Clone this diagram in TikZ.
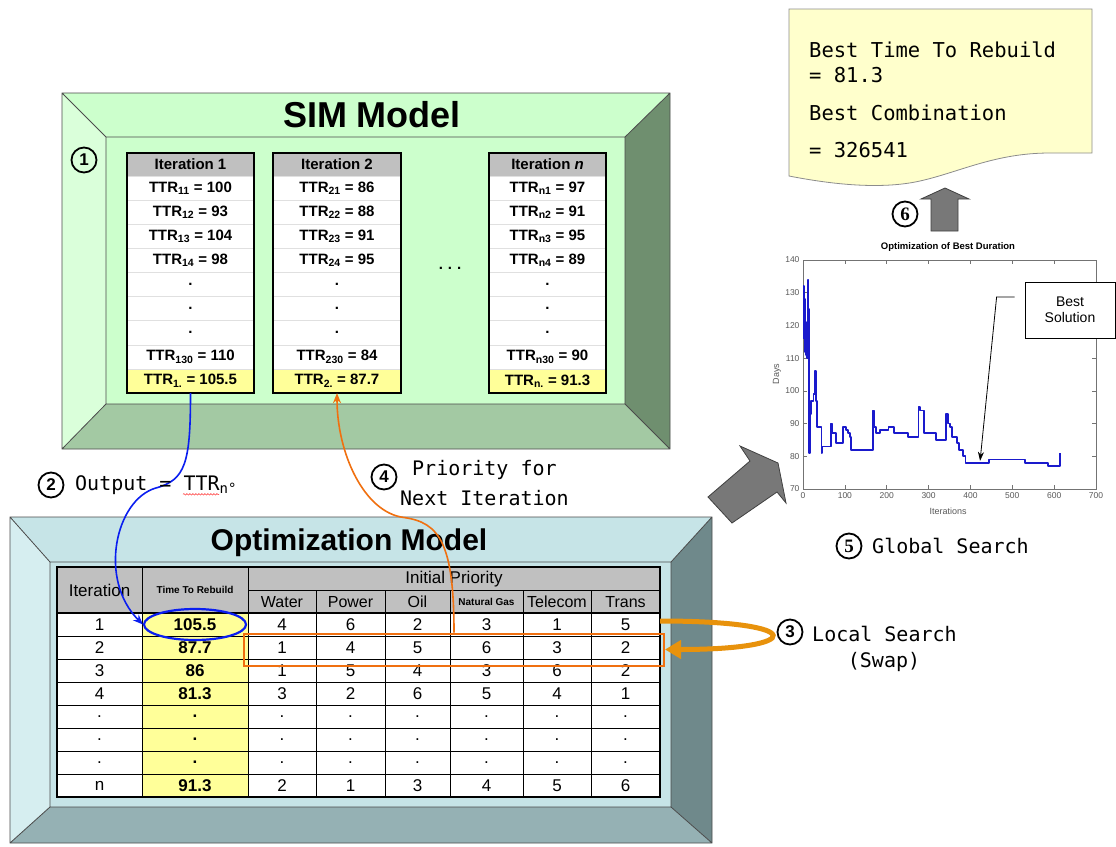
\documentclass[tikz,border=0pt]{standalone}
\usepackage{fontspec}
\setmainfont{Liberation Sans}
\newfontfamily\labelmono{DejaVu Sans Mono}
\newfontfamily\numserif{Liberation Serif}
\usetikzlibrary{arrows.meta, positioning, shapes.geometric, calc, decorations.pathmorphing}
\definecolor{simlight}{HTML}{CCFFCC}
\definecolor{simleft}{HTML}{DAFFDA}
\definecolor{simright}{HTML}{6F8F6F}
\definecolor{simbottom}{HTML}{A3C9A3}
\definecolor{optlight}{HTML}{C6E4E7}
\definecolor{optleft}{HTML}{D6EEF0}
\definecolor{optright}{HTML}{6F898B}
\definecolor{optbottom}{HTML}{95B1B4}
\definecolor{hdrgrey}{HTML}{C0C0C0}
\definecolor{cellyellow}{HTML}{FFFF99}
\definecolor{noteyellow}{HTML}{FFFFCC}
\definecolor{linkblue}{HTML}{0A1EF0}
\definecolor{linkorange}{HTML}{F07010}
\definecolor{swaporange}{HTML}{E8920C}
\definecolor{blockgrey}{HTML}{787878}
\definecolor{plotblue}{HTML}{1A1ACC}

\begin{document}
\begin{tikzpicture}[
  x=1pt, y=-1pt,
  frameedge/.style={draw=black!70, line width=0.8pt},
  simhead/.style={fill=hdrgrey, minimum height=23pt, font=\bfseries\fontsize{15}{15}\selectfont},
  simcell/.style={draw=black!12, fill=white, minimum height=24.1pt, font=\bfseries\fontsize{15}{15}\selectfont},
  opthead/.style={font=\fontsize{16}{16}\selectfont},
  optcell/.style={font=\fontsize{17}{17}\selectfont},
  circnum/.style={circle, draw, line width=1.8pt, minimum size=25pt, inner sep=0pt, font=\bfseries\fontsize{17}{17}\selectfont},
  steplabel/.style={font=\labelmono\fontsize{20}{24}\selectfont, inner sep=0pt, anchor=west},
  notetext/.style={font=\labelmono\fontsize{20.5}{20.5}\selectfont, inner sep=0pt, anchor=west},
  ticklabel/.style={font=\fontsize{8.5}{8.5}\selectfont, text=black!65},
]
\useasboundingbox (0,0) rectangle (1116,846);
\fill[white] (0,0) rectangle (1116,846);

% SIM model frame
\fill[simlight] (62,93) -- (670,93) -- (625,137) -- (106,137) -- cycle;
\fill[simleft] (62,93) -- (106,137) -- (106,404) -- (62,449) -- cycle;
\fill[simright] (670,93) -- (625,137) -- (625,404) -- (670,449) -- cycle;
\fill[simbottom] (62,449) -- (106,404) -- (625,404) -- (670,449) -- cycle;
\fill[simlight] (106,137) rectangle (625,404);
\draw[frameedge] (62,93) rectangle (670,449) (106,137) rectangle (625,404)
  (62,93) -- (106,137) (670,93) -- (625,137) (62,449) -- (106,404) (670,449) -- (625,404);
\node[font=\bfseries\fontsize{36}{36}\selectfont] (simtitle) at (372,115) {SIM Model};
\node[circnum] (n1) at (84,160) {1};

% iteration columns
\node[simhead, minimum width=127pt] (c1h) at (190.5,164.5) {Iteration 1};
\foreach \txt [count=\i] in {TTR\textsubscript{11} = 100, TTR\textsubscript{12} = 93, TTR\textsubscript{13} = 104, TTR\textsubscript{14} = 98, ., ., ., TTR\textsubscript{130} = 110}
  \node[simcell, minimum width=127pt] (c1r\i) at (190.5,{176+24.1*(\i-0.5)}) {\txt};
\node[simcell, fill=cellyellow, minimum width=127pt] (c1y) at (190.5,380.85) {TTR\textsubscript{1.} = 105.5};
\draw[line width=2.2pt] (c1h.north west) rectangle (c1y.south east);

\node[simhead, minimum width=128pt] (c2h) at (337,164.5) {Iteration 2};
\foreach \txt [count=\i] in {TTR\textsubscript{21} = 86, TTR\textsubscript{22} = 88, TTR\textsubscript{23} = 91, TTR\textsubscript{24} = 95, ., ., ., TTR\textsubscript{230} = 84}
  \node[simcell, minimum width=128pt] (c2r\i) at (337,{176+24.1*(\i-0.5)}) {\txt};
\node[simcell, fill=cellyellow, minimum width=128pt] (c2y) at (337,380.85) {TTR\textsubscript{2.} = 87.7};
\draw[line width=2.2pt] (c2h.north west) rectangle (c2y.south east);

\node[font=\bfseries\fontsize{15}{15}\selectfont] (cdots) at (450,268) {.\,\,.\,\,.};

\node[simhead, minimum width=117pt] (cnh) at (547.5,164.5) {Iteration \textit{n}};
\foreach \txt [count=\i] in {TTR\textsubscript{n1} = 97, TTR\textsubscript{n2} = 91, TTR\textsubscript{n3} = 95, TTR\textsubscript{n4} = 89, ., ., ., TTR\textsubscript{n30} = 90}
  \node[simcell, minimum width=117pt] (cnr\i) at (547.5,{176+24.1*(\i-0.5)}) {\txt};
\node[simcell, fill=cellyellow, minimum width=117pt] (cny) at (547.5,380.85) {TTR\textsubscript{n.} = 91.3};
\draw[line width=2.2pt] (cnh.north west) rectangle (cny.south east);

% optimization model frame
\fill[optlight] (10,517) -- (712,517) -- (671,562) -- (50,562) -- cycle;
\fill[optleft] (10,517) -- (50,562) -- (50,807) -- (10,843) -- cycle;
\fill[optright] (712,517) -- (671,562) -- (671,807) -- (712,843) -- cycle;
\fill[optbottom] (10,843) -- (50,807) -- (671,807) -- (712,843) -- cycle;
\fill[optlight] (50,562) rectangle (671,807);
\draw[frameedge] (10,517) rectangle (712,843) (50,562) rectangle (671,807)
  (10,517) -- (50,562) (712,517) -- (671,562) (10,843) -- (50,807) (712,843) -- (671,807);
\node[font=\bfseries\fontsize{30}{30}\selectfont] (opttitle) at (349,543) {Optimization Model};

% table
\fill[hdrgrey] (57,567) rectangle (660,613);
\fill[white] (57,613) rectangle (660,797);
\fill[cellyellow] (142,613) rectangle (248,797);
\foreach \yy in {636,659,...,774} \draw[line width=0.8pt] (57,\yy) -- (660,\yy);
\draw[line width=0.8pt] (248,590) -- (660,590);
\foreach \xx in {142,248} \draw[line width=0.8pt] (\xx,567) -- (\xx,797);
\foreach \xx in {316,385,450,523,591} \draw[line width=0.8pt] (\xx,590) -- (\xx,797);
\draw[line width=1.6pt] (57,613) -- (660,613);
\draw[line width=2.2pt] (57,567) rectangle (660,797);

\node[font=\fontsize{17}{17}\selectfont] (hiter) at (99.5,590) {Iteration};
\node[font=\bfseries\fontsize{10}{10}\selectfont] (httr) at (195,590) {Time To Rebuild};
\node[font=\fontsize{17}{17}\selectfont] (hprio) at (454,579) {Initial Priority};
\foreach \h/\xx in {Water/282, Power/350.5, Oil/417.5, Telecom/557, Trans/625.5}
  \node[opthead] (h\h) at (\xx,602) {\h};
\node[font=\bfseries\fontsize{10}{10}\selectfont] (hgas) at (486.5,602) {Natural Gas};

\foreach \row [count=\rw] in {{1,105.5,4,6,2,3,1,5},{2,87.7,1,4,5,6,3,2},{3,86,1,5,4,3,6,2},{4,81.3,3,2,6,5,4,1},{.,.,.,.,.,.,.,.},{.,.,.,.,.,.,.,.},{.,.,.,.,.,.,.,.},{n,91.3,2,1,3,4,5,6}}
  \foreach \v [count=\cl] in \row {
    \pgfmathsetmacro\xx{{99.5,195,282,350.5,417.5,486.5,557,625.5}[\cl-1]}
    \pgfmathsetmacro\yy{613+23*(\rw-0.5)}
    \node[optcell] (t\rw-\cl) at (\xx,\yy) {\ifnum\cl=2 \bfseries\fi\v};
  }

\node[draw=linkblue, ellipse, line width=2.2pt, minimum width=102pt, minimum height=31pt] (best) at (t1-2) {};
\node[draw=linkorange, line width=2pt, minimum width=420pt, minimum height=32pt] (swap) at (454,649.5) {};
\coordinate (looptop) at (660,621);

% connectors
\draw[-{Stealth[length=10pt,width=8pt]}, linkblue, line width=1.6pt]
  (c1y.south) .. controls +(0,70) and +(30,-8) .. ++(-35,95)
  .. controls +(-40,12) and +(-45,-45) .. (best.west);
\draw[-{Stealth[length=10pt,width=8pt]}, linkorange, line width=1.6pt]
  (swap.north) .. controls +(0,-90) and +(35,5) .. ++(-50,-115)
  .. controls +(-40,-5) and +(0,60) .. (c2y.south);
\draw[-{Triangle[length=16pt,width=18pt]}, swaporange, line width=5pt]
  (looptop) .. controls +(150,0) and +(140,0) .. (swap.east);

% step labels
\node[circnum] (n2) at (51,485) {2};
\node[steplabel] (outlbl) at (75,485) {Output = TTR\textsubscript{n°}};
\draw[red, decorate, decoration={snake, amplitude=0.8pt, segment length=3pt}]
  ([xshift=108pt, yshift=-4pt]outlbl.base west) -- ++(36,0);
\node[circnum] (n4) at (384,477) {4};
\node[steplabel] (priolbl) at (412,470) {Priority for};
\node[steplabel] (nextlbl) at (400,498) {Next Iteration};
\node[circnum] (n3) at (790,632) {3};
\node[steplabel] (locallbl) at (812,634) {Local Search};
\node[steplabel, anchor=center] (swaplbl) at (884,662) {(Swap)};
\node[circnum, font=\numserif\bfseries\fontsize{19}{19}\selectfont] (n5) at (849,546) {5};
\node[steplabel] (globallbl) at (872,546) {Global Search};

% global search chart
\node[font=\bfseries\fontsize{9.5}{10}\selectfont] (charttitle) at (948,247) {Optimization of Best Duration};
\node[ticklabel, font=\fontsize{9}{9}\selectfont] (iterlbl) at (948,511) {Iterations};
\node[ticklabel, font=\fontsize{9}{9}\selectfont, rotate=90] (dayslbl) at (777,374) {Days};
\begin{scope}[shift={(803,489)}, x=0.4186pt, y=3.271pt]
  \draw[black!55, line width=0.5pt] (0,0) rectangle (700,70);
  \foreach \d in {70,80,...,140} {
    \draw[black!55, line width=0.5pt] (0,{\d-70}) -- ++(4pt,0) (700,{\d-70}) -- ++(-4pt,0);
    \node[ticklabel, left] (ty\d) at (0,{\d-70}) {\d};
  }
  \foreach \i in {0,100,...,700} {
    \draw[black!55, line width=0.5pt] (\i,0) -- ++(0,4pt) (\i,70) -- ++(0,-4pt);
    \node[ticklabel, below] (tx\i) at (\i,0) {\i};
  }
  \begin{scope}[shift={(0,-70)}]
    \draw[plotblue, line width=1.8pt, line join=round] plot coordinates {
      (1,116) (1,132) (2,132) (2,118) (3,118) (3,128) (4,128) (4,112) (5,112) (5,125)
      (6,125) (6,113) (7,113) (7,121) (8,121) (8,111) (9,111) (9,118) (10,118) (10,110)
      (11,110) (11,119) (12,119) (12,134) (13,134) (13,125) (14,125) (14,109) (15,109) (15,81)
      (17,81) (17,93) (20,93) (20,97) (25,97) (25,99) (28,99) (28,106) (31,106) (31,97)
      (33,97) (33,89) (44,89) (44,81) (46,81) (46,83) (67,83) (67,90) (70,90) (70,87)
      (79,87) (79,84) (96,84) (96,89) (102,89) (102,88) (108,88) (108,87) (112,87) (112,86)
      (115,86) (115,82) (167,82) (167,94) (170,94) (170,89) (174,89) (174,87) (184,87) (184,88)
      (204,88) (204,89) (218,89) (218,87) (250,87) (250,86) (276,86) (276,95) (280,95) (280,94)
      (289,94) (289,87) (317,87) (317,85) (342,85) (342,93) (346,93) (346,90) (351,90) (351,89)
      (355,89) (355,86) (367,86) (367,84) (372,84) (372,82) (383,82) (383,80) (388,80) (388,78)
      (444,78) (444,79) (530,79) (530,78) (585,78) (585,77) (614,77) (614,81)};
    \coordinate (bestpt) at (423,78.6);
  \end{scope}
\end{scope}
\node[draw, line width=0.8pt, fill=white, minimum width=90pt, minimum height=56pt, align=center,
  font=\fontsize{14}{16}\selectfont] (bestsol) at (1070,310) {Best\\Solution};
\draw[-{Stealth[length=9pt,width=6pt]}, line width=0.8pt]
  ([xshift=-10pt, yshift=13pt]bestsol.west) -- ++(-18,0) -- (bestpt);

% block arrows
\draw[fill=blockgrey, draw=black!75, line width=0.8pt]
  (708,497) -- (750,461) -- (740,446) -- (778,463) -- (786,503) -- (777,492) -- (732,523) -- cycle;
\draw[fill=blockgrey, draw=black!75, line width=0.8pt]
  (931,231) -- (931,199) -- (921,199) -- (945,188) -- (969,199) -- (958,199) -- (958,231) -- cycle;
\node[circnum, font=\numserif\bfseries\fontsize{19}{19}\selectfont] (n6) at (905,214) {6};

% best result note
\draw[fill=noteyellow, draw=black!45, line width=0.8pt]
  (789,9) -- (1092,9) -- (1092,153) -- (1050,153)
  .. controls (995,153) and (960,172) .. (920,181)
  .. controls (880,190) and (830,184) .. (789,176) -- cycle;
\node[notetext] (note1) at (809,50) {Best Time To Rebuild};
\node[notetext] (note2) at (809,75) {= 81.3};
\node[notetext] (note3) at (809,113) {Best Combination};
\node[notetext] (note4) at (809,150) {= 326541};
\end{tikzpicture}
\end{document}
